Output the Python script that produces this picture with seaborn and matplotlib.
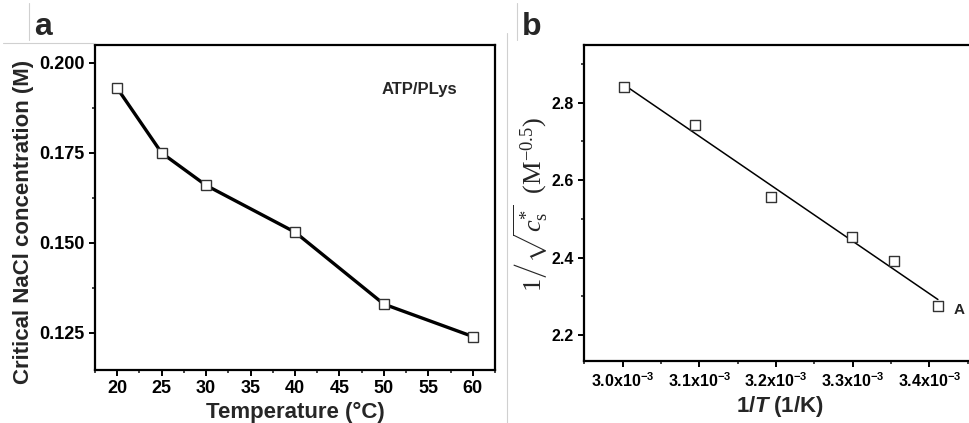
import numpy as np
import pandas as pd
import matplotlib
matplotlib.use("Agg")
import matplotlib.pyplot as plt
from matplotlib.lines import Line2D
from matplotlib.ticker import MultipleLocator, FixedLocator
import seaborn as sns

# ---- data ----
temperature_c = [20, 25, 30, 40, 50, 60]
critical_nacl = [0.193, 0.175, 0.166, 0.153, 0.133, 0.124]

inv_T = [3.0017e-3, 3.0945e-3, 3.1934e-3, 3.2987e-3, 3.3540e-3, 3.4112e-3]
inv_sqrt_cs = [2.840, 2.742, 2.557, 2.454, 2.390, 2.276]

xticks_b = [3.0e-3, 3.1e-3, 3.2e-3, 3.3e-3, 3.4e-3]
xtick_labels_b = ["3.0", "3.1", "3.2", "3.3", "3.4"]

sns.set_theme(style="ticks")
plt.rcParams["font.family"] = ["Liberation Sans", "DejaVu Sans"]
plt.rcParams["mathtext.fontset"] = "custom"
plt.rcParams["mathtext.rm"] = "Liberation Serif"
plt.rcParams["mathtext.it"] = "Liberation Serif:italic"
plt.rcParams["mathtext.bf"] = "Liberation Sans:bold"
try:
    plt.rcParams["mathtext.bfit"] = "Liberation Sans:bold:italic"
except KeyError:
    pass

W, H = 969, 423
fig = plt.figure(figsize=(W / 100, H / 100), dpi=100)

def px_axes(x0, y0, x1, y1):
    return fig.add_axes([x0 / W, 1 - y1 / H, (x1 - x0) / W, (y1 - y0) / H])

axa = px_axes(95, 45, 495, 370)
axb = px_axes(584, 45, 975, 361)

df_a = pd.DataFrame({"T": temperature_c, "c": critical_nacl})
sns.lineplot(data=df_a, x="T", y="c", ax=axa, color="black", linewidth=2.4,
             marker="s", markersize=7.5, markerfacecolor="white",
             markeredgecolor="#333333", markeredgewidth=1.0)
axa.set_xlim(17.5, 62.5)
axa.set_ylim(0.1147, 0.205)
axa.xaxis.set_major_locator(FixedLocator([20, 25, 30, 35, 40, 45, 50, 55, 60]))
axa.xaxis.set_minor_locator(MultipleLocator(2.5))
axa.yaxis.set_major_locator(FixedLocator([0.125, 0.150, 0.175, 0.200]))
axa.yaxis.set_minor_locator(MultipleLocator(0.0125))
axa.set_yticklabels(["0.125", "0.150", "0.175", "0.200"])
axa.set_xlabel("Temperature (°C)", fontsize=16, fontweight="bold", labelpad=3)
axa.set_ylabel("Critical NaCl concentration (M)", fontsize=16, fontweight="bold")
axa.yaxis.set_label_coords(-0.152, 0.455)
axa.text(0.81, 0.862, "ATP/PLys", transform=axa.transAxes, ha="center", va="center",
         fontsize=12, fontweight="bold")

df_b = pd.DataFrame({"x": inv_T, "y": inv_sqrt_cs})
sns.regplot(data=df_b, x="x", y="y", ax=axb, ci=None, scatter=False,
            line_kws=dict(color="black", linewidth=1.1))
sns.scatterplot(data=df_b, x="x", y="y", ax=axb, marker="s", s=60,
                facecolor="white", edgecolor="#333333", linewidth=1.0, zorder=3)
axb.set_xlim(2.9495e-3, 3.4596e-3)
axb.set_ylim(2.133, 2.949)
axb.xaxis.set_major_locator(FixedLocator(xticks_b))
axb.set_xticklabels([r"$\mathbf{" + t + r"x10^{-3}}$" for t in xtick_labels_b])
axb.xaxis.set_minor_locator(MultipleLocator(0.05e-3))
axb.yaxis.set_major_locator(FixedLocator([2.2, 2.4, 2.6, 2.8]))
axb.yaxis.set_minor_locator(MultipleLocator(0.1))
axb.set_yticklabels(["2.2", "2.4", "2.6", "2.8"])
try:
    xl = r"$\mathbf{1/}\mathbfit{T}\ \mathbf{(1/K)}$"
    axb.set_xlabel(xl, fontsize=16, labelpad=3)
    fig.canvas.draw()
except Exception:
    axb.set_xlabel("1/T (1/K)", fontsize=16, fontweight="bold", labelpad=3)
axb.set_ylabel(r"$1\left/\sqrt{c^{*}_{\mathrm{s}}}\right.\ \ (\mathrm{M}^{-0.5})$", fontsize=19)
axb.yaxis.set_label_coords(-0.085, 0.495)
axb.text(0.959, 2.265, "A", transform=axb.get_yaxis_transform(), ha="center", va="center",
         fontsize=11, fontweight="bold")

for ax, fs in ((axa, 13), (axb, 11.5)):
    for s in ax.spines.values():
        s.set_linewidth(1.6)
        s.set_color("black")
    ax.tick_params(which="major", direction="out", length=4, width=1.4,
                   labelsize=fs, colors="black")
    ax.tick_params(which="minor", direction="out", length=2.5, width=1.2)
    for lab in ax.get_xticklabels() + ax.get_yticklabels():
        lab.set_fontweight("bold")

fig.text(43 / W, 1 - 27 / H, "a", fontsize=23, fontweight="bold", ha="center", va="center")
fig.text(532 / W, 1 - 27 / H, "b", fontsize=23, fontweight="bold", ha="center", va="center")

# faint panel-composition lines
for (x0, y0, x1, y1) in [(507, 33, 507, 423), (29, 3, 29, 40), (517, 3, 517, 40),
                         (3, 43, 95, 43)]:
    fig.add_artist(Line2D([x0 / W, x1 / W], [1 - y0 / H, 1 - y1 / H],
                          color="#d0d0d0", linewidth=0.8))

fig.savefig("out.png", dpi=100)
